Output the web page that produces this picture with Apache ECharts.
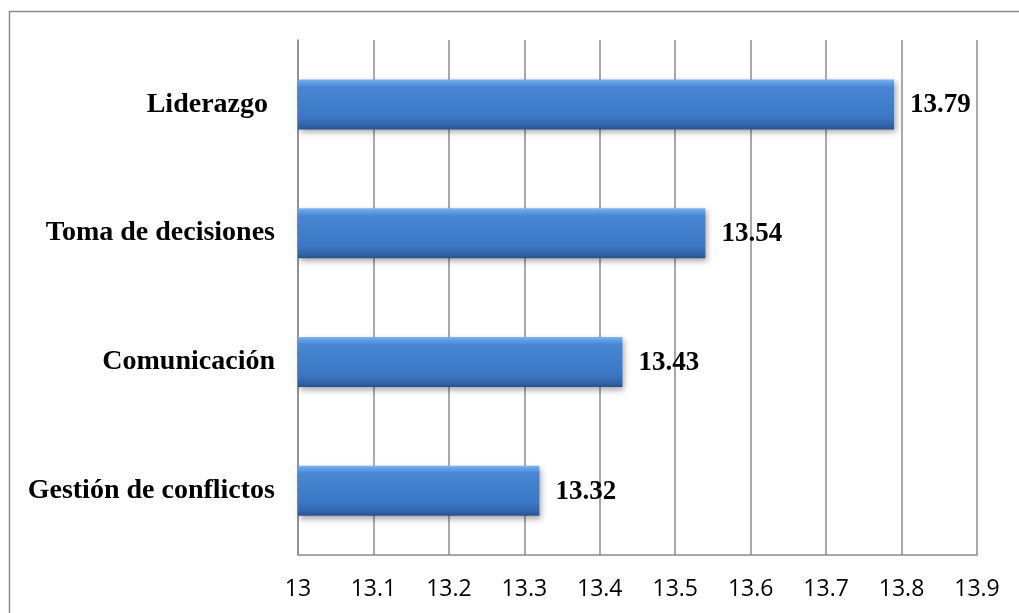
<!DOCTYPE html>
<html>
<head>
<meta charset="utf-8">
<script src="https://cdn.jsdelivr.net/npm/echarts@6/dist/echarts.min.js"></script>
<style>
  html, body { margin: 0; padding: 0; background: #fff; }
  #chart { width: 1019px; height: 613px; }
</style>
</head>
<body>
<div id="chart"></div>
<script>
// Competencias y su puntuación media
const categories = ['Liderazgo ', 'Toma de decisiones', 'Comunicación', 'Gestión de conflictos'];
const scores = [13.79, 13.54, 13.43, 13.32];
const axisMin = 13;
const axisMax = 13.9;
const axisStep = 0.1;

const chart = echarts.init(document.getElementById('chart'), null, { renderer: 'canvas' });

const barFill = new echarts.graphic.LinearGradient(0, 0, 0, 1, [
  { offset: 0.00, color: '#80b6f0' },
  { offset: 0.06, color: '#62a0e6' },
  { offset: 0.16, color: '#4886d3' },
  { offset: 0.75, color: '#3b77c4' },
  { offset: 0.92, color: '#3264aa' },
  { offset: 1.00, color: '#28518c' }
]);

chart.setOption({
  animation: false,
  backgroundColor: '#ffffff',
  graphic: [{
    type: 'rect',
    shape: { x: 9.5, y: 11.5, width: 1040, height: 640 },
    style: { fill: 'none', stroke: '#8a8a8a', lineWidth: 1.5 },
    silent: true,
    z: -10
  }],
  grid: { left: 298, right: 42, top: 40, bottom: 58, containLabel: false },
  xAxis: {
    type: 'value',
    min: axisMin,
    max: axisMax,
    interval: axisStep,
    axisLine: { show: true, lineStyle: { color: '#8c8c8c', width: 1.5 } },
    axisTick: { show: false },
    splitLine: { show: true, lineStyle: { color: '#8c8c8c', width: 1.5 } },
    axisLabel: {
      margin: 23,
      fontFamily: 'Open Sans',
      fontSize: 23,
      color: '#000',
      formatter: v => String(Math.round(v * 10) / 10)
    }
  },
  yAxis: {
    type: 'category',
    data: categories,
    inverse: true,
    axisLine: { show: true, lineStyle: { color: '#8c8c8c', width: 1.5 } },
    axisTick: { show: false },
    axisLabel: {
      margin: 23,
      fontFamily: 'Liberation Serif',
      fontWeight: 'bold',
      fontSize: 28,
      color: '#000'
    }
  },
  series: [{
    type: 'bar',
    data: scores,
    barWidth: 50,
    itemStyle: {
      color: barFill,
      shadowColor: 'rgba(0,0,0,0.35)',
      shadowBlur: 6,
      shadowOffsetX: 2,
      shadowOffsetY: 3
    },
    label: {
      show: true,
      position: 'right',
      distance: 16,
      offset: [0, 1],
      fontFamily: 'Liberation Serif',
      fontWeight: 'bold',
      fontSize: 27,
      color: '#000',
      formatter: p => p.value.toFixed(2)
    }
  }]
});
</script>
</body>
</html>
